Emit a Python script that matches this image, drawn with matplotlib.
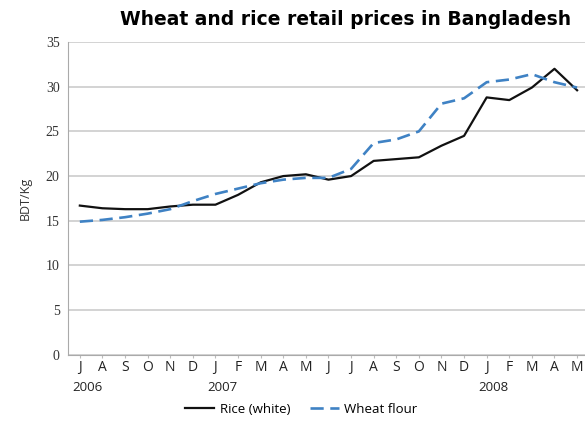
import matplotlib
matplotlib.use('Agg')
import matplotlib.pyplot as plt

# 月度数据 (2006年7月 - 2008年5月)
months = ['J', 'A', 'S', 'O', 'N', 'D', 'J', 'F', 'M', 'A', 'M', 'J',
          'J', 'A', 'S', 'O', 'N', 'D', 'J', 'F', 'M', 'A', 'M']
years = ['2006', '2007', '2008']
year_pos = [0, 6, 18]

rice = [16.7, 16.4, 16.3, 16.3, 16.6, 16.8, 16.8, 17.9, 19.3, 20.0, 20.2, 19.6,
        20.0, 21.7, 21.9, 22.1, 23.4, 24.5, 28.8, 28.5, 29.9, 32.0, 29.6]
wheat = [14.9, 15.1, 15.4, 15.8, 16.3, 17.2, 18.0, 18.6, 19.2, 19.6, 19.8, 19.8,
         20.8, 23.7, 24.1, 25.0, 28.1, 28.7, 30.5, 30.8, 31.4, 30.5, 29.9]

fig = plt.figure(figsize=(5.85, 4.24), dpi=100)
ax = fig.add_axes([0.116, 0.163, 0.884, 0.738])

x = list(range(len(months)))
ax.plot(x, rice, color='#111111', lw=1.6, label='Rice (white)')
ax.plot(x, wheat, color='#3f82c4', lw=1.9, dashes=(5, 2.5), label='Wheat flour')

ax.set_ylim(0, 35)
ax.set_xlim(-0.53, 22.35)
ax.set_yticks(range(0, 36, 5))
ax.yaxis.grid(True, color='#cccccc', lw=1.2)
ax.set_axisbelow(True)

for s in ['top', 'right']:
    ax.spines[s].set_visible(False)
for s in ['left', 'bottom']:
    ax.spines[s].set_color('#aaaaaa')

ax.set_xticks(x)
ax.set_xticklabels(months, family='Open Sans', fontsize=10, color='#222222')
ax.tick_params(axis='x', length=2, color='#bbbbbb', pad=2)
ax.tick_params(axis='y', length=0, pad=6, labelsize=10, colors='#333333')
for lbl in ax.get_yticklabels():
    lbl.set_family('Liberation Serif')

# 年份标注
for pos, yr in zip(year_pos, years):
    ax.text(pos - 0.35, -0.085, yr, transform=ax.get_xaxis_transform(),
            ha='left', va='top', fontsize=9.5, family='Open Sans', color='#222222')

ax.set_ylabel('BDT/Kg', family='Open Sans', fontsize=9, color='#333333', labelpad=10)

fig.text(0.59, 0.955, 'Wheat and rice retail prices in Bangladesh',
         ha='center', va='center', fontsize=13.5, fontweight='bold',
         family=['Liberation Sans Narrow', 'DejaVu Sans'])

fig.legend(loc='center', bbox_to_anchor=(0.515, 0.035), ncol=2, frameon=False,
           prop={'family': 'Open Sans', 'size': 9.5}, handlelength=2.2,
           columnspacing=1.5, handletextpad=0.4)

fig.savefig('out.png', dpi=100)
